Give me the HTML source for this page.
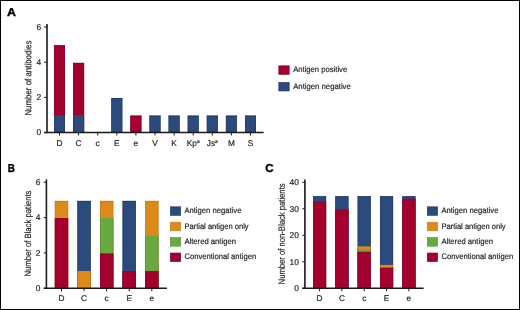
<!DOCTYPE html>
<html><head><meta charset="utf-8"><style>
html,body{margin:0;padding:0;background:#fff;width:520px;height:310px;overflow:hidden}
svg{display:block;will-change:transform}
text{text-rendering:geometricPrecision}
.t{stroke:#222;stroke-width:0.18px}
</style></head><body>
<svg width="520" height="310" viewBox="0 0 520 310" font-family="Liberation Sans, sans-serif">
<text x="0" y="0" font-size="11.5" font-weight="bold" fill="#000" stroke="#000" stroke-width="0.4" transform="translate(7.0,16.3) scale(1.08,1)">A</text>
<text x="0" y="0" font-size="11.5" font-weight="bold" fill="#000" stroke="#000" stroke-width="0.4" transform="translate(7.75,172.1) scale(0.86,1)">B</text>
<text x="0" y="0" font-size="11.5" font-weight="bold" fill="#000" stroke="#000" stroke-width="0.4" transform="translate(265.3,172.2) scale(1.0,1)">C</text>
<rect x="54.00" y="45.30" width="11.00" height="87.70" fill="#a3002f"/>
<rect x="54.00" y="45.30" width="0.60" height="87.70" fill="#8a0026"/>
<rect x="64.40" y="45.30" width="0.60" height="87.70" fill="#8a0026"/>
<rect x="54.00" y="45.30" width="11.00" height="0.90" fill="#8a0026"/>
<rect x="54.00" y="115.32" width="11.00" height="17.68" fill="#2d4a7c"/>
<rect x="54.00" y="115.32" width="0.60" height="17.68" fill="#1f3a6a"/>
<rect x="64.40" y="115.32" width="0.60" height="17.68" fill="#1f3a6a"/>
<rect x="73.10" y="62.88" width="11.00" height="70.12" fill="#a3002f"/>
<rect x="73.10" y="62.88" width="0.60" height="70.12" fill="#8a0026"/>
<rect x="83.50" y="62.88" width="0.60" height="70.12" fill="#8a0026"/>
<rect x="73.10" y="62.88" width="11.00" height="0.90" fill="#8a0026"/>
<rect x="73.10" y="115.32" width="11.00" height="17.68" fill="#2d4a7c"/>
<rect x="73.10" y="115.32" width="0.60" height="17.68" fill="#1f3a6a"/>
<rect x="83.50" y="115.32" width="0.60" height="17.68" fill="#1f3a6a"/>
<rect x="111.30" y="98.04" width="11.00" height="34.96" fill="#2d4a7c"/>
<rect x="111.30" y="98.04" width="0.60" height="34.96" fill="#1f3a6a"/>
<rect x="121.70" y="98.04" width="0.60" height="34.96" fill="#1f3a6a"/>
<rect x="111.30" y="98.04" width="11.00" height="0.90" fill="#1f3a6a"/>
<rect x="130.40" y="115.62" width="11.00" height="17.38" fill="#a3002f"/>
<rect x="130.40" y="115.62" width="0.60" height="17.38" fill="#8a0026"/>
<rect x="140.80" y="115.62" width="0.60" height="17.38" fill="#8a0026"/>
<rect x="130.40" y="115.62" width="11.00" height="0.90" fill="#8a0026"/>
<rect x="149.50" y="115.62" width="11.00" height="17.38" fill="#2d4a7c"/>
<rect x="149.50" y="115.62" width="0.60" height="17.38" fill="#1f3a6a"/>
<rect x="159.90" y="115.62" width="0.60" height="17.38" fill="#1f3a6a"/>
<rect x="149.50" y="115.62" width="11.00" height="0.90" fill="#1f3a6a"/>
<rect x="168.60" y="115.62" width="11.00" height="17.38" fill="#2d4a7c"/>
<rect x="168.60" y="115.62" width="0.60" height="17.38" fill="#1f3a6a"/>
<rect x="179.00" y="115.62" width="0.60" height="17.38" fill="#1f3a6a"/>
<rect x="168.60" y="115.62" width="11.00" height="0.90" fill="#1f3a6a"/>
<rect x="187.70" y="115.62" width="11.00" height="17.38" fill="#2d4a7c"/>
<rect x="187.70" y="115.62" width="0.60" height="17.38" fill="#1f3a6a"/>
<rect x="198.10" y="115.62" width="0.60" height="17.38" fill="#1f3a6a"/>
<rect x="187.70" y="115.62" width="11.00" height="0.90" fill="#1f3a6a"/>
<rect x="206.80" y="115.62" width="11.00" height="17.38" fill="#2d4a7c"/>
<rect x="206.80" y="115.62" width="0.60" height="17.38" fill="#1f3a6a"/>
<rect x="217.20" y="115.62" width="0.60" height="17.38" fill="#1f3a6a"/>
<rect x="206.80" y="115.62" width="11.00" height="0.90" fill="#1f3a6a"/>
<rect x="225.90" y="115.62" width="11.00" height="17.38" fill="#2d4a7c"/>
<rect x="225.90" y="115.62" width="0.60" height="17.38" fill="#1f3a6a"/>
<rect x="236.30" y="115.62" width="0.60" height="17.38" fill="#1f3a6a"/>
<rect x="225.90" y="115.62" width="11.00" height="0.90" fill="#1f3a6a"/>
<rect x="245.00" y="115.62" width="11.00" height="17.38" fill="#2d4a7c"/>
<rect x="245.00" y="115.62" width="0.60" height="17.38" fill="#1f3a6a"/>
<rect x="255.40" y="115.62" width="0.60" height="17.38" fill="#1f3a6a"/>
<rect x="245.00" y="115.62" width="11.00" height="0.90" fill="#1f3a6a"/>
<line x1="47.00" y1="24.00" x2="47.00" y2="133.25" stroke="#1a1a1a" stroke-width="1.6"/>
<line x1="44.00" y1="132.50" x2="263.60" y2="132.50" stroke="#1a1a1a" stroke-width="1.5"/>
<line x1="44.00" y1="132.50" x2="47.00" y2="132.50" stroke="#1a1a1a" stroke-width="1.0"/>
<text class="t" x="41.20" y="135.30" font-size="8.4" text-anchor="end" fill="#222" >0</text>
<line x1="44.00" y1="97.34" x2="47.00" y2="97.34" stroke="#1a1a1a" stroke-width="1.0"/>
<text class="t" x="41.20" y="100.14" font-size="8.4" text-anchor="end" fill="#222" >2</text>
<line x1="44.00" y1="62.18" x2="47.00" y2="62.18" stroke="#1a1a1a" stroke-width="1.0"/>
<text class="t" x="41.20" y="64.98" font-size="8.4" text-anchor="end" fill="#222" >4</text>
<line x1="44.00" y1="27.02" x2="47.00" y2="27.02" stroke="#1a1a1a" stroke-width="1.0"/>
<text class="t" x="41.20" y="29.82" font-size="8.4" text-anchor="end" fill="#222" >6</text>
<line x1="59.50" y1="132.50" x2="59.50" y2="135.50" stroke="#1a1a1a" stroke-width="1.0"/>
<text class="t" x="59.50" y="145.70" font-size="8.3" text-anchor="middle" fill="#222" >D</text>
<line x1="78.60" y1="132.50" x2="78.60" y2="135.50" stroke="#1a1a1a" stroke-width="1.0"/>
<text class="t" x="78.60" y="145.70" font-size="8.3" text-anchor="middle" fill="#222" >C</text>
<line x1="97.70" y1="132.50" x2="97.70" y2="135.50" stroke="#1a1a1a" stroke-width="1.0"/>
<text class="t" x="97.70" y="145.70" font-size="8.3" text-anchor="middle" fill="#222" >c</text>
<line x1="116.80" y1="132.50" x2="116.80" y2="135.50" stroke="#1a1a1a" stroke-width="1.0"/>
<text class="t" x="116.80" y="145.70" font-size="8.3" text-anchor="middle" fill="#222" >E</text>
<line x1="135.90" y1="132.50" x2="135.90" y2="135.50" stroke="#1a1a1a" stroke-width="1.0"/>
<text class="t" x="135.90" y="145.70" font-size="8.3" text-anchor="middle" fill="#222" >e</text>
<line x1="155.00" y1="132.50" x2="155.00" y2="135.50" stroke="#1a1a1a" stroke-width="1.0"/>
<text class="t" x="155.00" y="145.70" font-size="8.3" text-anchor="middle" fill="#222" >V</text>
<line x1="174.10" y1="132.50" x2="174.10" y2="135.50" stroke="#1a1a1a" stroke-width="1.0"/>
<text class="t" x="174.10" y="145.70" font-size="8.3" text-anchor="middle" fill="#222" >K</text>
<line x1="193.20" y1="132.50" x2="193.20" y2="135.50" stroke="#1a1a1a" stroke-width="1.0"/>
<text class="t" x="193.20" y="145.70" font-size="8.3" text-anchor="middle" fill="#222" >Kp<tspan font-size="5" dy="-3">a</tspan></text>
<line x1="212.30" y1="132.50" x2="212.30" y2="135.50" stroke="#1a1a1a" stroke-width="1.0"/>
<text class="t" x="212.30" y="145.70" font-size="8.3" text-anchor="middle" fill="#222" >Js<tspan font-size="5" dy="-3">a</tspan></text>
<line x1="231.40" y1="132.50" x2="231.40" y2="135.50" stroke="#1a1a1a" stroke-width="1.0"/>
<text class="t" x="231.40" y="145.70" font-size="8.3" text-anchor="middle" fill="#222" >M</text>
<line x1="250.50" y1="132.50" x2="250.50" y2="135.50" stroke="#1a1a1a" stroke-width="1.0"/>
<text class="t" x="250.50" y="145.70" font-size="8.3" text-anchor="middle" fill="#222" >S</text>
<text class="t" x="0" y="0" font-size="9.0" text-anchor="middle" fill="#222" textLength="75" lengthAdjust="spacingAndGlyphs" transform="translate(31.3,78.1) rotate(-89.95)">Number of antibodies</text>
<rect x="278.80" y="65.80" width="10.40" height="8.60" fill="#a3002f" stroke="#8a0026" stroke-width="0.6"/>
<text class="t" x="293.2" y="72.45" font-size="8.0" fill="#222" textLength="54.0" lengthAdjust="spacingAndGlyphs">Antigen positive</text>
<rect x="278.80" y="82.40" width="10.40" height="8.60" fill="#2d4a7c" stroke="#1f3a6a" stroke-width="0.6"/>
<text class="t" x="293.2" y="89.05" font-size="8.0" fill="#222" textLength="57.6" lengthAdjust="spacingAndGlyphs">Antigen negative</text>
<rect x="54.85" y="200.90" width="13.30" height="87.90" fill="#dc8a1a"/>
<rect x="54.85" y="200.90" width="0.60" height="87.90" fill="#c97a10"/>
<rect x="67.55" y="200.90" width="0.60" height="87.90" fill="#c97a10"/>
<rect x="54.85" y="200.90" width="13.30" height="0.90" fill="#c97a10"/>
<rect x="54.85" y="218.02" width="13.30" height="70.78" fill="#a3002f"/>
<rect x="54.85" y="218.02" width="0.60" height="70.78" fill="#8a0026"/>
<rect x="67.55" y="218.02" width="0.60" height="70.78" fill="#8a0026"/>
<rect x="77.42" y="200.90" width="13.30" height="87.90" fill="#2d4a7c"/>
<rect x="77.42" y="200.90" width="0.60" height="87.90" fill="#1f3a6a"/>
<rect x="90.12" y="200.90" width="0.60" height="87.90" fill="#1f3a6a"/>
<rect x="77.42" y="200.90" width="13.30" height="0.90" fill="#1f3a6a"/>
<rect x="77.42" y="271.03" width="13.30" height="17.77" fill="#dc8a1a"/>
<rect x="77.42" y="271.03" width="0.60" height="17.77" fill="#c97a10"/>
<rect x="90.12" y="271.03" width="0.60" height="17.77" fill="#c97a10"/>
<rect x="100.00" y="200.90" width="13.30" height="87.90" fill="#dc8a1a"/>
<rect x="100.00" y="200.90" width="0.60" height="87.90" fill="#c97a10"/>
<rect x="112.70" y="200.90" width="0.60" height="87.90" fill="#c97a10"/>
<rect x="100.00" y="200.90" width="13.30" height="0.90" fill="#c97a10"/>
<rect x="100.00" y="218.02" width="13.30" height="70.78" fill="#6aa840"/>
<rect x="100.00" y="218.02" width="0.60" height="70.78" fill="#5a9433"/>
<rect x="112.70" y="218.02" width="0.60" height="70.78" fill="#5a9433"/>
<rect x="100.00" y="253.36" width="13.30" height="35.44" fill="#a3002f"/>
<rect x="100.00" y="253.36" width="0.60" height="35.44" fill="#8a0026"/>
<rect x="112.70" y="253.36" width="0.60" height="35.44" fill="#8a0026"/>
<rect x="122.57" y="200.90" width="13.30" height="87.90" fill="#2d4a7c"/>
<rect x="122.57" y="200.90" width="0.60" height="87.90" fill="#1f3a6a"/>
<rect x="135.28" y="200.90" width="0.60" height="87.90" fill="#1f3a6a"/>
<rect x="122.57" y="200.90" width="13.30" height="0.90" fill="#1f3a6a"/>
<rect x="122.57" y="271.03" width="13.30" height="17.77" fill="#a3002f"/>
<rect x="122.57" y="271.03" width="0.60" height="17.77" fill="#8a0026"/>
<rect x="135.28" y="271.03" width="0.60" height="17.77" fill="#8a0026"/>
<rect x="145.15" y="200.90" width="13.30" height="87.90" fill="#dc8a1a"/>
<rect x="145.15" y="200.90" width="0.60" height="87.90" fill="#c97a10"/>
<rect x="157.85" y="200.90" width="0.60" height="87.90" fill="#c97a10"/>
<rect x="145.15" y="200.90" width="13.30" height="0.90" fill="#c97a10"/>
<rect x="145.15" y="235.69" width="13.30" height="53.11" fill="#6aa840"/>
<rect x="145.15" y="235.69" width="0.60" height="53.11" fill="#5a9433"/>
<rect x="157.85" y="235.69" width="0.60" height="53.11" fill="#5a9433"/>
<rect x="145.15" y="271.03" width="13.30" height="17.77" fill="#a3002f"/>
<rect x="145.15" y="271.03" width="0.60" height="17.77" fill="#8a0026"/>
<rect x="157.85" y="271.03" width="0.60" height="17.77" fill="#8a0026"/>
<line x1="46.40" y1="179.40" x2="46.40" y2="289.05" stroke="#1a1a1a" stroke-width="1.6"/>
<line x1="43.70" y1="288.30" x2="166.90" y2="288.30" stroke="#1a1a1a" stroke-width="1.5"/>
<line x1="43.70" y1="288.30" x2="46.40" y2="288.30" stroke="#1a1a1a" stroke-width="1.0"/>
<text class="t" x="40.40" y="291.10" font-size="8.4" text-anchor="end" fill="#222" >0</text>
<line x1="43.70" y1="252.96" x2="46.40" y2="252.96" stroke="#1a1a1a" stroke-width="1.0"/>
<text class="t" x="40.40" y="255.76" font-size="8.4" text-anchor="end" fill="#222" >2</text>
<line x1="43.70" y1="217.62" x2="46.40" y2="217.62" stroke="#1a1a1a" stroke-width="1.0"/>
<text class="t" x="40.40" y="220.42" font-size="8.4" text-anchor="end" fill="#222" >4</text>
<line x1="43.70" y1="182.28" x2="46.40" y2="182.28" stroke="#1a1a1a" stroke-width="1.0"/>
<text class="t" x="40.40" y="185.08" font-size="8.4" text-anchor="end" fill="#222" >6</text>
<line x1="61.50" y1="288.30" x2="61.50" y2="291.30" stroke="#1a1a1a" stroke-width="1.0"/>
<text class="t" x="61.50" y="301.00" font-size="8.3" text-anchor="middle" fill="#222" >D</text>
<line x1="84.08" y1="288.30" x2="84.08" y2="291.30" stroke="#1a1a1a" stroke-width="1.0"/>
<text class="t" x="84.08" y="301.00" font-size="8.3" text-anchor="middle" fill="#222" >C</text>
<line x1="106.65" y1="288.30" x2="106.65" y2="291.30" stroke="#1a1a1a" stroke-width="1.0"/>
<text class="t" x="106.65" y="301.00" font-size="8.3" text-anchor="middle" fill="#222" >c</text>
<line x1="129.22" y1="288.30" x2="129.22" y2="291.30" stroke="#1a1a1a" stroke-width="1.0"/>
<text class="t" x="129.22" y="301.00" font-size="8.3" text-anchor="middle" fill="#222" >E</text>
<line x1="151.80" y1="288.30" x2="151.80" y2="291.30" stroke="#1a1a1a" stroke-width="1.0"/>
<text class="t" x="151.80" y="301.00" font-size="8.3" text-anchor="middle" fill="#222" >e</text>
<text class="t" x="0" y="0" font-size="9.0" text-anchor="middle" fill="#222" textLength="86" lengthAdjust="spacingAndGlyphs" transform="translate(30.9,233.6) rotate(-89.95)">Number of Black patients</text>
<rect x="170.30" y="206.80" width="10.40" height="8.60" fill="#2d4a7c" stroke="#1f3a6a" stroke-width="0.6"/>
<text class="t" x="184.4" y="213.10" font-size="8.0" fill="#222" textLength="57.0" lengthAdjust="spacingAndGlyphs">Antigen negative</text>
<rect x="170.30" y="222.20" width="10.40" height="8.60" fill="#dc8a1a" stroke="#c97a10" stroke-width="0.6"/>
<text class="t" x="184.4" y="228.50" font-size="8.0" fill="#222" textLength="64.2" lengthAdjust="spacingAndGlyphs">Partial antigen only</text>
<rect x="170.30" y="237.60" width="10.40" height="8.60" fill="#6aa840" stroke="#5a9433" stroke-width="0.6"/>
<text class="t" x="184.4" y="243.90" font-size="8.0" fill="#222" textLength="51.6" lengthAdjust="spacingAndGlyphs">Altered antigen</text>
<rect x="170.30" y="253.00" width="10.40" height="8.60" fill="#a3002f" stroke="#8a0026" stroke-width="0.6"/>
<text class="t" x="184.4" y="259.30" font-size="8.0" fill="#222" textLength="71.8" lengthAdjust="spacingAndGlyphs">Conventional antigen</text>
<rect x="313.00" y="196.30" width="13.10" height="92.50" fill="#2d4a7c"/>
<rect x="313.00" y="196.30" width="0.60" height="92.50" fill="#1f3a6a"/>
<rect x="325.50" y="196.30" width="0.60" height="92.50" fill="#1f3a6a"/>
<rect x="313.00" y="196.30" width="13.10" height="0.90" fill="#1f3a6a"/>
<rect x="313.00" y="201.35" width="13.10" height="87.45" fill="#a3002f"/>
<rect x="313.00" y="201.35" width="0.60" height="87.45" fill="#8a0026"/>
<rect x="325.50" y="201.35" width="0.60" height="87.45" fill="#8a0026"/>
<rect x="335.33" y="196.30" width="13.10" height="92.50" fill="#2d4a7c"/>
<rect x="335.33" y="196.30" width="0.60" height="92.50" fill="#1f3a6a"/>
<rect x="347.83" y="196.30" width="0.60" height="92.50" fill="#1f3a6a"/>
<rect x="335.33" y="196.30" width="13.10" height="0.90" fill="#1f3a6a"/>
<rect x="335.33" y="209.30" width="13.10" height="79.50" fill="#a3002f"/>
<rect x="335.33" y="209.30" width="0.60" height="79.50" fill="#8a0026"/>
<rect x="347.83" y="209.30" width="0.60" height="79.50" fill="#8a0026"/>
<rect x="357.66" y="196.30" width="13.10" height="92.50" fill="#2d4a7c"/>
<rect x="357.66" y="196.30" width="0.60" height="92.50" fill="#1f3a6a"/>
<rect x="370.16" y="196.30" width="0.60" height="92.50" fill="#1f3a6a"/>
<rect x="357.66" y="196.30" width="13.10" height="0.90" fill="#1f3a6a"/>
<rect x="357.66" y="246.40" width="13.10" height="42.40" fill="#dc8a1a"/>
<rect x="357.66" y="246.40" width="0.60" height="42.40" fill="#c97a10"/>
<rect x="370.16" y="246.40" width="0.60" height="42.40" fill="#c97a10"/>
<rect x="357.66" y="249.05" width="13.10" height="39.75" fill="#6aa840"/>
<rect x="357.66" y="249.05" width="0.60" height="39.75" fill="#5a9433"/>
<rect x="370.16" y="249.05" width="0.60" height="39.75" fill="#5a9433"/>
<rect x="357.66" y="251.70" width="13.10" height="37.10" fill="#a3002f"/>
<rect x="357.66" y="251.70" width="0.60" height="37.10" fill="#8a0026"/>
<rect x="370.16" y="251.70" width="0.60" height="37.10" fill="#8a0026"/>
<rect x="379.99" y="196.30" width="13.10" height="92.50" fill="#2d4a7c"/>
<rect x="379.99" y="196.30" width="0.60" height="92.50" fill="#1f3a6a"/>
<rect x="392.49" y="196.30" width="0.60" height="92.50" fill="#1f3a6a"/>
<rect x="379.99" y="196.30" width="13.10" height="0.90" fill="#1f3a6a"/>
<rect x="379.99" y="264.95" width="13.10" height="23.85" fill="#dc8a1a"/>
<rect x="379.99" y="264.95" width="0.60" height="23.85" fill="#c97a10"/>
<rect x="392.49" y="264.95" width="0.60" height="23.85" fill="#c97a10"/>
<rect x="379.99" y="267.60" width="13.10" height="21.20" fill="#a3002f"/>
<rect x="379.99" y="267.60" width="0.60" height="21.20" fill="#8a0026"/>
<rect x="392.49" y="267.60" width="0.60" height="21.20" fill="#8a0026"/>
<rect x="402.32" y="196.30" width="13.10" height="92.50" fill="#2d4a7c"/>
<rect x="402.32" y="196.30" width="0.60" height="92.50" fill="#1f3a6a"/>
<rect x="414.82" y="196.30" width="0.60" height="92.50" fill="#1f3a6a"/>
<rect x="402.32" y="196.30" width="13.10" height="0.90" fill="#1f3a6a"/>
<rect x="402.32" y="198.70" width="13.10" height="90.10" fill="#a3002f"/>
<rect x="402.32" y="198.70" width="0.60" height="90.10" fill="#8a0026"/>
<rect x="414.82" y="198.70" width="0.60" height="90.10" fill="#8a0026"/>
<line x1="304.90" y1="179.40" x2="304.90" y2="289.05" stroke="#1a1a1a" stroke-width="1.6"/>
<line x1="302.30" y1="288.30" x2="423.60" y2="288.30" stroke="#1a1a1a" stroke-width="1.5"/>
<line x1="302.30" y1="288.30" x2="304.90" y2="288.30" stroke="#1a1a1a" stroke-width="1.0"/>
<text class="t" x="298.80" y="291.10" font-size="8.4" text-anchor="end" fill="#222" >0</text>
<line x1="302.30" y1="261.80" x2="304.90" y2="261.80" stroke="#1a1a1a" stroke-width="1.0"/>
<text class="t" x="298.80" y="264.60" font-size="8.4" text-anchor="end" fill="#222" >10</text>
<line x1="302.30" y1="235.30" x2="304.90" y2="235.30" stroke="#1a1a1a" stroke-width="1.0"/>
<text class="t" x="298.80" y="238.10" font-size="8.4" text-anchor="end" fill="#222" >20</text>
<line x1="302.30" y1="208.80" x2="304.90" y2="208.80" stroke="#1a1a1a" stroke-width="1.0"/>
<text class="t" x="298.80" y="211.60" font-size="8.4" text-anchor="end" fill="#222" >30</text>
<line x1="302.30" y1="182.30" x2="304.90" y2="182.30" stroke="#1a1a1a" stroke-width="1.0"/>
<text class="t" x="298.80" y="185.10" font-size="8.4" text-anchor="end" fill="#222" >40</text>
<line x1="319.55" y1="288.30" x2="319.55" y2="291.30" stroke="#1a1a1a" stroke-width="1.0"/>
<text class="t" x="319.55" y="301.00" font-size="8.3" text-anchor="middle" fill="#222" >D</text>
<line x1="341.88" y1="288.30" x2="341.88" y2="291.30" stroke="#1a1a1a" stroke-width="1.0"/>
<text class="t" x="341.88" y="301.00" font-size="8.3" text-anchor="middle" fill="#222" >C</text>
<line x1="364.21" y1="288.30" x2="364.21" y2="291.30" stroke="#1a1a1a" stroke-width="1.0"/>
<text class="t" x="364.21" y="301.00" font-size="8.3" text-anchor="middle" fill="#222" >c</text>
<line x1="386.54" y1="288.30" x2="386.54" y2="291.30" stroke="#1a1a1a" stroke-width="1.0"/>
<text class="t" x="386.54" y="301.00" font-size="8.3" text-anchor="middle" fill="#222" >E</text>
<line x1="408.87" y1="288.30" x2="408.87" y2="291.30" stroke="#1a1a1a" stroke-width="1.0"/>
<text class="t" x="408.87" y="301.00" font-size="8.3" text-anchor="middle" fill="#222" >e</text>
<text class="t" x="0" y="0" font-size="9.0" text-anchor="middle" fill="#222" textLength="101" lengthAdjust="spacingAndGlyphs" transform="translate(284.8,233.9) rotate(-89.95)">Number of non-Black patients</text>
<rect x="427.30" y="206.80" width="10.40" height="8.60" fill="#2d4a7c" stroke="#1f3a6a" stroke-width="0.6"/>
<text class="t" x="441.4" y="213.10" font-size="8.0" fill="#222" textLength="57.0" lengthAdjust="spacingAndGlyphs">Antigen negative</text>
<rect x="427.30" y="222.20" width="10.40" height="8.60" fill="#dc8a1a" stroke="#c97a10" stroke-width="0.6"/>
<text class="t" x="441.4" y="228.50" font-size="8.0" fill="#222" textLength="64.2" lengthAdjust="spacingAndGlyphs">Partial antigen only</text>
<rect x="427.30" y="237.60" width="10.40" height="8.60" fill="#6aa840" stroke="#5a9433" stroke-width="0.6"/>
<text class="t" x="441.4" y="243.90" font-size="8.0" fill="#222" textLength="51.6" lengthAdjust="spacingAndGlyphs">Altered antigen</text>
<rect x="427.30" y="253.00" width="10.40" height="8.60" fill="#a3002f" stroke="#8a0026" stroke-width="0.6"/>
<text class="t" x="441.4" y="259.30" font-size="8.0" fill="#222" textLength="71.8" lengthAdjust="spacingAndGlyphs">Conventional antigen</text>
<rect x="0.5" y="0.5" width="519" height="309" fill="none" stroke="#000" stroke-width="1"/>
</svg>
</body></html>
